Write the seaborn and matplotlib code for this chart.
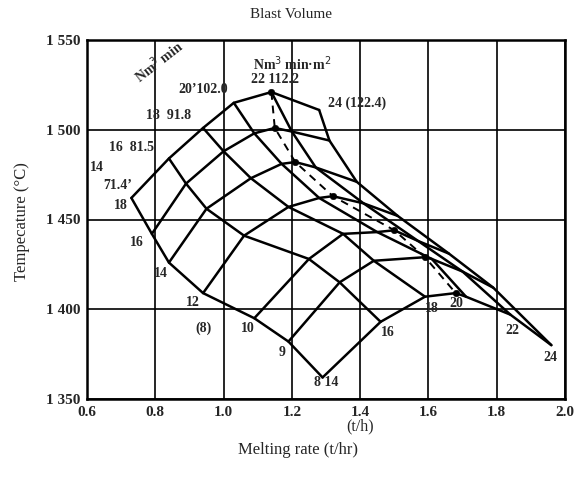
import numpy as np
import pandas as pd
import matplotlib
matplotlib.use("Agg")
import matplotlib.pyplot as plt
import seaborn as sns

# ---- data ----
coke_pct = [18, 16, 14, 12, 10, 9, 8]
blast = [14, 16, 18, 20, 22, 24]

rate_c18 = [0.73, 0.84, 0.94, 1.03, 1.14, 1.28]
temp_c18 = [1462, 1484, 1501, 1515, 1521, 1511]
rate_c16 = [0.79, 0.89, 1.00, 1.09, 1.20, 1.31]
temp_c16 = [1442, 1470, 1488, 1498, 1499, 1494]
rate_c14 = [0.84, 0.95, 1.08, 1.17, 1.27, 1.39]
temp_c14 = [1426, 1456, 1473, 1481, 1479, 1471]
rate_c12 = [0.94, 1.06, 1.19, 1.28, 1.41, 1.51]
temp_c12 = [1409, 1441, 1457, 1462, 1459, 1452]
rate_c10 = [1.09, 1.25, 1.35, 1.45, 1.57, 1.66]
temp_c10 = [1395, 1428, 1442, 1443, 1438, 1431]
rate_c9 = [1.19, 1.34, 1.44, 1.61, 1.70, 1.79]
temp_c9 = [1382, 1415, 1427, 1428, 1421, 1412]
rate_c8 = [1.29, 1.46, 1.59, 1.71, 1.84, 1.96]
temp_c8 = [1362, 1393, 1407, 1407, 1397, 1380]

# maximum-temperature points of each coke curve (dashed line)
peak_rate = [1.14, 1.15, 1.21, 1.32, 1.50, 1.59, 1.68]
peak_temp = [1521, 1501, 1482, 1463, 1444, 1429, 1409]

x_ticks = [0.6, 0.8, 1.0, 1.2, 1.4, 1.6, 1.8, 2.0]
x_ticklabels = ["0.6", "0.8", "1.0", "1.2", "1.4", "1.6", "1.8", "2.0"]
y_ticks = [1350, 1400, 1450, 1500, 1550]
y_ticklabels = ["1 350", "1 400", "1 450", "1 500", "1 550"]

# ---- tables ----
rates = [rate_c18, rate_c16, rate_c14, rate_c12, rate_c10, rate_c9, rate_c8]
temps = [temp_c18, temp_c16, temp_c14, temp_c12, temp_c10, temp_c9, temp_c8]
rows = []
for c, rr, tt in zip(coke_pct, rates, temps):
    for b, r, t in zip(blast, rr, tt):
        rows.append({"coke": c, "blast": b, "rate": r, "temp": t})
nodes = pd.DataFrame(rows)
peaks = pd.DataFrame({"coke": coke_pct, "rate": peak_rate, "temp": peak_temp})
coke_df = pd.concat([nodes[["coke", "rate", "temp"]], peaks], ignore_index=True)

# ---- figure ----
sns.set_theme(style="white")
plt.rcParams["font.family"] = ["Liberation Serif", "DejaVu Serif"]

fig = plt.figure(figsize=(5.82, 4.79), dpi=100)
ax = fig.add_axes([87 / 582, 1 - 399 / 479, (565 - 87) / 582, (399 - 40) / 479])

lw = 1.8
sns.lineplot(data=coke_df, x="rate", y="temp", units="coke", estimator=None,
             sort=True, color="black", lw=lw, ax=ax, legend=False)
sns.lineplot(data=nodes, x="rate", y="temp", units="blast", estimator=None,
             sort=True, color="black", lw=lw, ax=ax, legend=False)
sns.lineplot(data=peaks, x="rate", y="temp", estimator=None, sort=False,
             color="black", lw=1.4, linestyle=(0, (4, 3)), ax=ax, legend=False)
sns.scatterplot(data=peaks, x="rate", y="temp", color="black", s=22,
                edgecolor="black", ax=ax, legend=False, zorder=5)

ax.set_xlim(0.6, 2.0)
ax.set_ylim(1350, 1550)
ax.set_xticks(x_ticks)
ax.set_xticklabels(x_ticklabels, fontsize=11, fontweight="bold")
ax.set_yticks(y_ticks)
ax.set_yticklabels(y_ticklabels, fontsize=11, fontweight="bold")
ax.tick_params(length=0, pad=5)
ax.grid(True, color="black", lw=1.2)
for s in ax.spines.values():
    s.set_color("black")
    s.set_linewidth(1.8)
ax.set_xlabel("")
ax.set_ylabel("")

# ---- labels on the net ----
tk = dict(fontsize=10, fontweight="bold", ha="center", va="center")
ax.text(0.81, 1538, "Nm$^3$ min", rotation=38, **tk)
ax.text(1.20, 1537, "Nm$^3$ min·m$^2$", **tk)
ax.text(1.15, 1528, "22 112.2", **tk)
ax.text(0.94, 1522.5, "20\u2019102.0", **tk)
ax.text(0.84, 1508, "18  91.8", **tk)
ax.text(0.73, 1490, "16  81.5", **tk)
ax.text(0.63, 1479, "14", **tk)
ax.text(0.69, 1469, "71.4\u2019", **tk)
ax.text(0.70, 1458, "18", **tk)
ax.text(1.39, 1515, "24 (122.4)", **tk)
ax.text(0.746, 1437, "16", **tk)
ax.text(0.817, 1420, "14", **tk)
ax.text(0.91, 1404, "12", **tk)
ax.text(0.94, 1389.5, "(8)", **tk)
ax.text(1.07, 1389, "10", **tk)
ax.text(1.17, 1376, "9", **tk)
ax.text(1.30, 1359, "8 14", **tk)
ax.text(1.48, 1387, "16", **tk)
ax.text(1.61, 1400.5, "18", **tk)
ax.text(1.683, 1403, "20", **tk)
ax.text(1.845, 1388, "22", **tk)
ax.text(1.956, 1373, "24", **tk)

fig.text(291 / 582, 1 - 15 / 479, "Blast Volume", ha="center", va="center", fontsize=11)
fig.text(22 / 582, 1 - 222 / 479, "Tempecature (\u00b0C)", rotation=90,
         ha="center", va="center", fontsize=12)
fig.text(360 / 582, 1 - 426 / 479, "(t/h)", ha="center", va="center", fontsize=11.5)
fig.text(298 / 582, 1 - 450 / 479, "Melting rate (t/hr)", ha="center", va="center", fontsize=12)

fig.savefig("out.png", dpi=100)
